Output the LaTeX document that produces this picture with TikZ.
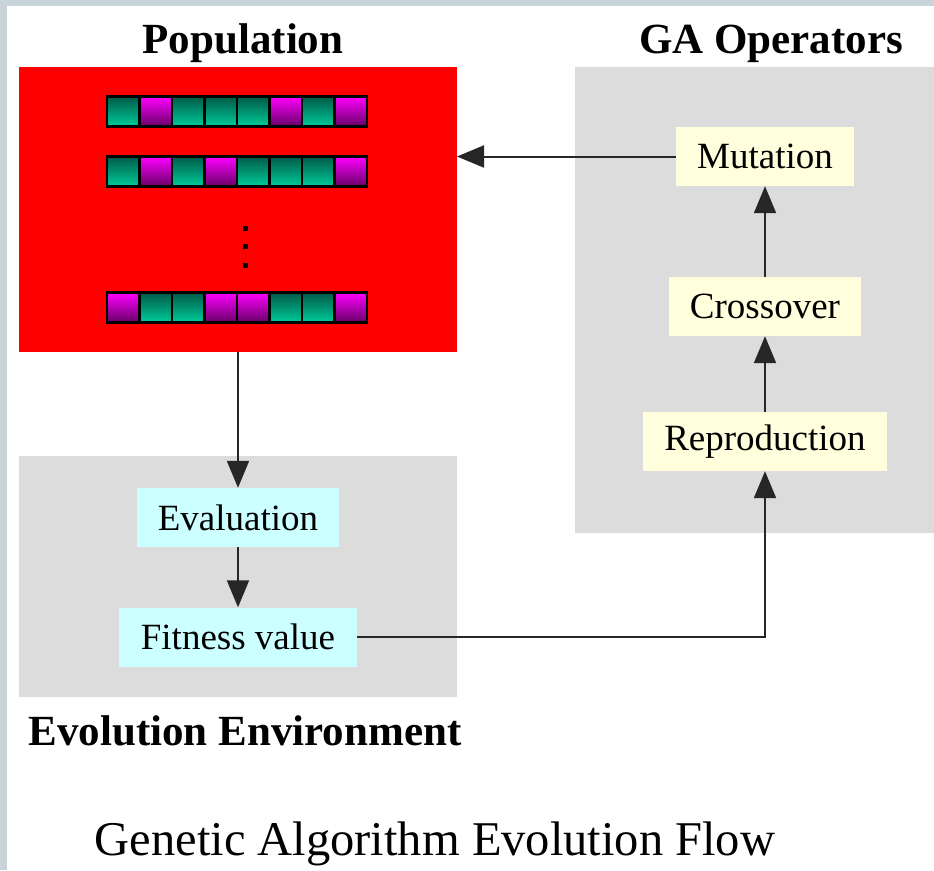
\documentclass[tikz,border=0pt]{standalone}
\usepackage{fontspec}
\setmainfont{Liberation Serif}
\usetikzlibrary{arrows.meta}
\definecolor{frame}{HTML}{C9D3DA}
\definecolor{panelgray}{HTML}{DCDCDC}
\definecolor{opfill}{HTML}{FFFFDD}
\definecolor{evalfill}{HTML}{CCFFFF}
\definecolor{genedark}{HTML}{005A48}
\definecolor{genelight}{HTML}{00CC99}
\definecolor{allelehi}{HTML}{FF00FF}
\definecolor{allelelo}{HTML}{660066}

% one row of genes: name, y of its centre, list of G/M
\newcommand{\chromosome}[3]{%
  \foreach \g [count=\i] in {#3}
    \node[gene\g] (#1-\i) at ({107+32.5*(\i-0.5)},#2) {};%
}

\begin{document}
\begin{tikzpicture}[x=1pt,y=-1pt,
 panel/.style={rectangle,inner sep=0pt,outer sep=0pt},
 heading/.style={anchor=base,font=\fontsize{43}{48}\selectfont\bfseries},
 opstep/.style={fill=opfill,minimum height=59pt,inner sep=0pt,font=\fontsize{37}{42}\selectfont},
 evalstep/.style={opstep,fill=evalfill},
 gene/.style={draw=black,line width=2.5pt,minimum width=32.5pt,minimum height=30pt,inner sep=0pt,outer sep=0pt},
 geneG/.style={gene,top color=genedark,bottom color=genelight},
 geneM/.style={gene,top color=allelehi,bottom color=allelelo},
 flow/.style={-{Triangle[length=27pt,width=22pt]},line width=2pt,draw=black!85}
]
\useasboundingbox (0,0) rectangle (934,870);
\fill[frame] (0,0) rectangle (934,870);
\fill[white] (7,6) rectangle (934,870);

\node[panel,fill=red,minimum width=438pt,minimum height=285pt] (population) at (238,209.5) {};
\node[panel,fill=panelgray,minimum width=359pt,minimum height=466pt] (operators) at (754.5,300) {};
\node[panel,fill=panelgray,minimum width=438pt,minimum height=241pt] (environment) at (238,576.5) {};

\node[heading] (poptitle) at (243,53) {Population};
\node[heading] (optitle) at (771,53) {GA Operators};
\node[heading] (envtitle) at (245,745) {Evolution Environment};

\chromosome{chromA}{111.5}{G,M,G,G,G,M,G,M}
\chromosome{chromB}{171.5}{G,M,G,M,G,G,G,M}
\chromosome{chromN}{307.5}{M,G,G,M,M,G,G,M}
\foreach \y in {228,246.5,265}
  \fill ({243},{\y-2.5}) rectangle +(5,5);

\node[opstep,minimum width=178pt] (mutation) at (765,156.5) {Mutation};
\node[opstep,minimum width=192pt] (crossover) at (765,306.5) {Crossover};
\node[opstep,minimum width=244pt] (reproduction) at (765,441.5) {Reproduction};
\node[evalstep,minimum width=202pt] (evaluation) at (238,517.5) {Evaluation};
\node[evalstep,minimum width=238pt] (fitness) at (238,637) {Fitness value};

\draw[flow] (mutation.west) -- (mutation.west -| population.east);
\draw[flow] (crossover.north) -- (mutation.south);
\draw[flow] (reproduction.north) -- (crossover.south);
\draw[flow] (population.south) -- (evaluation.north);
\draw[flow] (evaluation.south) -- (fitness.north);
\draw[flow] (fitness.east) -| (reproduction.south);

\node[anchor=base,font=\fontsize{48.5}{54}\selectfont] (caption) at (435,855) {Genetic Algorithm Evolution Flow};
\end{tikzpicture}
\end{document}
